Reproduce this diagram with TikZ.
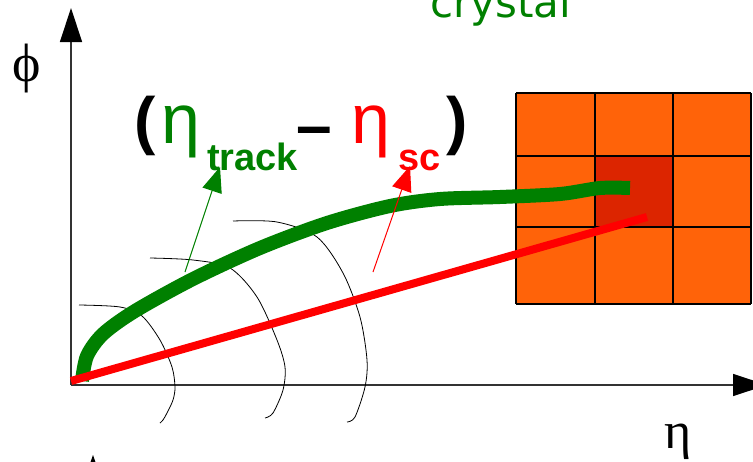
\documentclass[tikz,border=0pt]{standalone}
\usepackage{fontspec}
\usepackage{tikz}
\usetikzlibrary{arrows.meta}
\newfontfamily\formfont{Liberation Sans}
\newfontfamily\axisfont{Liberation Serif}
\newfontfamily\labelfont{DejaVu Sans}
\definecolor{cgreen}{HTML}{008000}
\definecolor{cred}{HTML}{FF0000}
\definecolor{corange}{HTML}{FF6309}
\definecolor{ccore}{HTML}{DC2500}
\definecolor{cgray}{HTML}{333333}

\begin{document}
\begin{tikzpicture}[x=1pt, y=-1pt,
    axis/.style={cgray, line width=1.3pt, -{Triangle[length=34pt, width=22pt, color=black]}},
    front/.style={line width=0.8pt, black},
    big/.style={inner sep=0pt, anchor=base west, font=\formfont\bfseries\fontsize{64}{64}\selectfont},
    greek/.style={inner sep=0pt, anchor=base west, font=\formfont\fontsize{70}{70}\selectfont},
    small/.style={inner sep=0pt, anchor=base west, font=\formfont\bfseries\fontsize{38}{38}\selectfont},
    pointer/.style={line width=1pt, -{Triangle[length=25pt, width=20pt]}}]
  \useasboundingbox (0,0) rectangle (753,461);
  \clip (0,0) rectangle (753,461);

  % Crystal matrix
  \fill[corange] (516,93) rectangle (751,304);
  \fill[ccore] (595,156) rectangle (673,227);
  \foreach \x in {516,595,673,751}{
    \draw[black, line width=1.2pt] (\x,93) -- (\x,304);
  }
  \foreach \y in {93,156,227,304}{
    \draw[black, line width=1.2pt] (516,\y) -- (751,\y);
  }

  % Axes
  \coordinate (origin) at (71,385);
  \coordinate (ytop) at (71,8);
  \coordinate (xend) at (767,385);
  \draw[axis] (origin) -- (ytop);
  \draw[axis] (origin) -- (xend);
  \fill[black] (93,455) -- (87,472) -- (99,472) -- cycle;

  % Fronts
  \draw[front] plot[smooth] coordinates {(79,305) (120,307) (142,316) (160,340) (172,367) (175,387) (173,400) (167,413) (163,420) (160,423)};
  \draw[front] plot[smooth] coordinates {(150,258) (193,260) (230,268) (257,297) (277,340) (285,367) (283,390) (273,413) (265,418)};
  \draw[front] plot[smooth] coordinates {(233,221) (277,222) (317,237) (343,273) (360,317) (367,360) (365,387) (355,417) (347,422)};

  % Track and supercluster direction
  \draw[cgreen, line width=14pt] plot[smooth] coordinates {(82,381) (87,356) (103,334) (135,311) (193,279) (260,248) (327,223) (390,206) (440,199) (500,197) (560,194) (600,188) (630,188)};
  \coordinate (scstart) at (71,381);
  \coordinate (scend) at (647,217);
  \draw[cred, line width=8pt] (scstart) -- (scend);

  % Label
  \node[big] (lpar) at (134,142) {(};
  \node[greek, cgreen] (etatrk) at (161,143) {η};
  \node[small, cgreen] (trk) at (207,170) {track};
  \node[big] (minus) at (296,147) {–};
  \node[greek, cred] (etasc) at (351,143) {η};
  \node[small, cred] (sc) at (398,170) {sc};
  \node[big] (rpar) at (446,142) {)};

  \coordinate (gfoot) at (185,272);
  \coordinate (gtip) at (220,167);
  \draw[pointer, cgreen] (gfoot) -- (gtip);
  \coordinate (rfoot) at (373,272);
  \coordinate (rtip) at (410,166);
  \draw[pointer, cred] (rfoot) -- (rtip);

  \node[inner sep=0pt, font=\axisfont\fontsize{54}{54}\selectfont] (phi) at (27,69) {ϕ};
  \node[inner sep=0pt, anchor=base west, font=\axisfont\fontsize{52}{52}\selectfont] (eta) at (664,448) {η};
  \node[inner sep=0pt, anchor=base west, cgreen, font=\labelfont\fontsize{42}{42}\selectfont] (crys) at (430,17) {crystal};
\end{tikzpicture}
\end{document}
